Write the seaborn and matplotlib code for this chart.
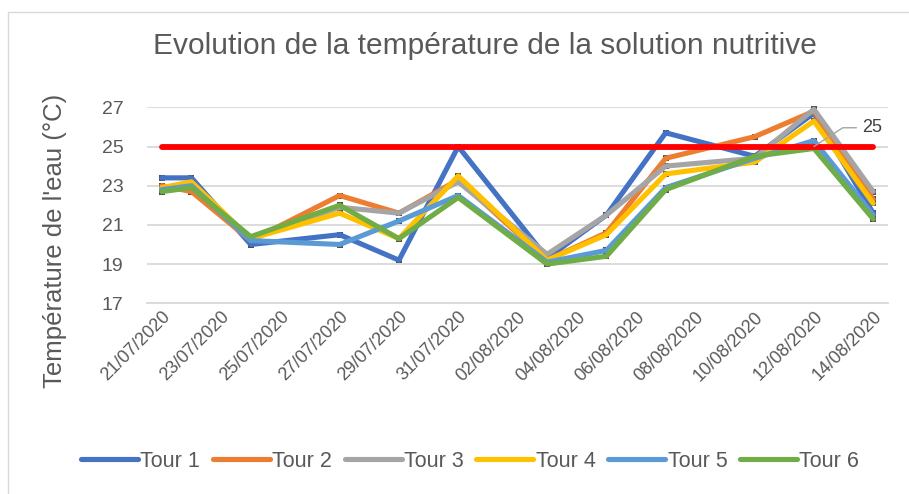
import pandas as pd
import matplotlib
matplotlib.use("Agg")
import matplotlib.pyplot as plt
import matplotlib.dates as mdates
import matplotlib.transforms as mtransforms
from matplotlib.patches import Rectangle
from matplotlib.lines import Line2D
import seaborn as sns

# Données
dates = ["21/07/2020", "22/07/2020", "24/07/2020", "27/07/2020", "29/07/2020", "31/07/2020",
         "03/08/2020", "05/08/2020", "07/08/2020", "10/08/2020", "12/08/2020", "14/08/2020"]

tour1 = [23.4, 23.4, 20.0, 20.5, 19.2, 25.0, 19.3, 21.5, 25.7, 24.5, 26.7, 21.6]
tour2 = [23.0, 22.7, 20.2, 22.5, 21.6, 23.3, 19.2, 20.6, 24.4, 25.5, 26.8, 22.3]
tour3 = [22.8, 23.0, 20.3, 21.9, 21.6, 23.2, 19.5, 21.5, 24.0, 24.4, 26.9, 22.7]
tour4 = [22.9, 23.2, 20.3, 21.6, 20.3, 23.5, 19.2, 20.5, 23.6, 24.2, 26.3, 22.1]
tour5 = [22.8, 23.0, 20.2, 20.0, 21.2, 22.5, 19.1, 19.7, 22.9, 24.4, 25.3, 21.5]
tour6 = [22.7, 22.9, 20.4, 22.0, 20.3, 22.4, 19.0, 19.4, 22.8, 24.5, 24.9, 21.3]
seuil = [25, 25, 25, 25, 25, 25, 25, 25, 25, 25, 25, 25]

tours = ["Tour 1", "Tour 2", "Tour 3", "Tour 4", "Tour 5", "Tour 6"]
couleurs = ["#4472C4", "#ED7D31", "#A5A5A5", "#FFC000", "#5B9BD5", "#70AD47"]

x = pd.to_datetime(dates, format="%d/%m/%Y")
frames = []
for nom, vals in zip(tours, [tour1, tour2, tour3, tour4, tour5, tour6]):
    frames.append(pd.DataFrame({"date": x, "temp": vals, "tour": nom}))
df = pd.concat(frames, ignore_index=True)
df_seuil = pd.DataFrame({"date": x, "temp": seuil})

sns.set_style("white")
plt.rcParams["font.family"] = ["Liberation Sans", "DejaVu Sans"]
gris = "#595959"

fig = plt.figure(figsize=(9.09, 4.94), dpi=100)
ax = fig.add_axes([147 / 909, 1 - 303.3 / 494, (888 - 147) / 909, (303.3 - 107.3) / 494])

# petits marqueurs sous les courbes
sns.scatterplot(data=df, x="date", y="temp", marker="s", s=14, color="#505050",
                linewidth=0, ax=ax, zorder=1, legend=False, clip_on=False)

sns.lineplot(data=df, x="date", y="temp", hue="tour", palette=couleurs, hue_order=tours,
             lw=3.7, sort=False, ax=ax, legend=False, zorder=2, clip_on=False,
             solid_capstyle="round", solid_joinstyle="round")
sns.lineplot(data=df_seuil, x="date", y="temp", color="#FF0000", lw=4.2, ax=ax,
             zorder=3, solid_capstyle="round", clip_on=False)

# étiquette de donnée "25"
ax.annotate("25", xy=(x[10], 25), xytext=(35, 13.5), textcoords="offset points",
            fontsize=13, color="#404040", va="center", ha="left",
            arrowprops=dict(arrowstyle="-", color="#A5A5A5", lw=1,
                            connectionstyle="angle,angleA=0,angleB=33,rad=0",
                            shrinkA=2, shrinkB=0, relpos=(0, 0.5)))

# axes
ax.set_ylim(17, 27)
ax.set_yticks([17, 19, 21, 23, 25, 27])
debut = pd.Timestamp("2020-07-21")
ax.set_xlim(debut - pd.Timedelta(hours=12), pd.Timestamp("2020-08-14") + pd.Timedelta(hours=12))
majeurs = [debut + pd.Timedelta(days=2 * k) for k in range(13)]
mineurs = [d - pd.Timedelta(hours=12) for d in majeurs]
ax.set_xticks(majeurs)
ax.set_xticks(mineurs, minor=True)
ax.xaxis.set_major_formatter(mdates.DateFormatter("%d/%m/%Y"))
ax.tick_params(axis="x", which="major", length=0, pad=8, labelsize=13, labelcolor=gris)
ax.tick_params(axis="x", which="minor", length=5, width=1, color="#D9D9D9", direction="out")
ax.tick_params(axis="y", length=0, pad=17, labelsize=14, labelcolor=gris)
decalage = mtransforms.ScaledTranslation(6 / 100, 0, fig.dpi_scale_trans)
for lab in ax.get_xticklabels():
    lab.set_rotation(45)
    lab.set_ha("right")
    lab.set_va("center")
    lab.set_rotation_mode("anchor")
    lab.set_transform(lab.get_transform() + decalage)

ax.grid(axis="y", color="#D9D9D9", lw=1.3)
ax.grid(axis="x", visible=False)
for s in ["top", "right", "left"]:
    ax.spines[s].set_visible(False)
ax.spines["bottom"].set_color("#D9D9D9")
ax.spines["bottom"].set_linewidth(1.3)
ax.set_xlabel("")
ax.set_ylabel("")

fig.text(485 / 909, 1 - 46 / 494, "Evolution de la température de la solution nutritive",
         ha="center", va="center", fontsize=21.5, color=gris)
fig.text(55 / 909, 1 - 241 / 494, "Température de l'eau (°C)", rotation=90,
         ha="center", va="center", fontsize=18.5, color=gris)

poignees = [Line2D([0], [0], color=c, lw=3.7, solid_capstyle="round") for c in couleurs]
fig.legend(poignees, tours, loc="center", bbox_to_anchor=(470 / 909, 1 - 461 / 494), ncol=6,
           frameon=False, fontsize=15.5, handlelength=2.65, handletextpad=0.1,
           columnspacing=0.6, labelcolor=gris)

fig.add_artist(Rectangle((8 / 909, -0.1), 1.2, (494 - 12) / 494 + 0.1, transform=fig.transFigure,
                         fill=False, edgecolor="#D9D9D9", lw=1))

fig.savefig("out.png", dpi=100)
